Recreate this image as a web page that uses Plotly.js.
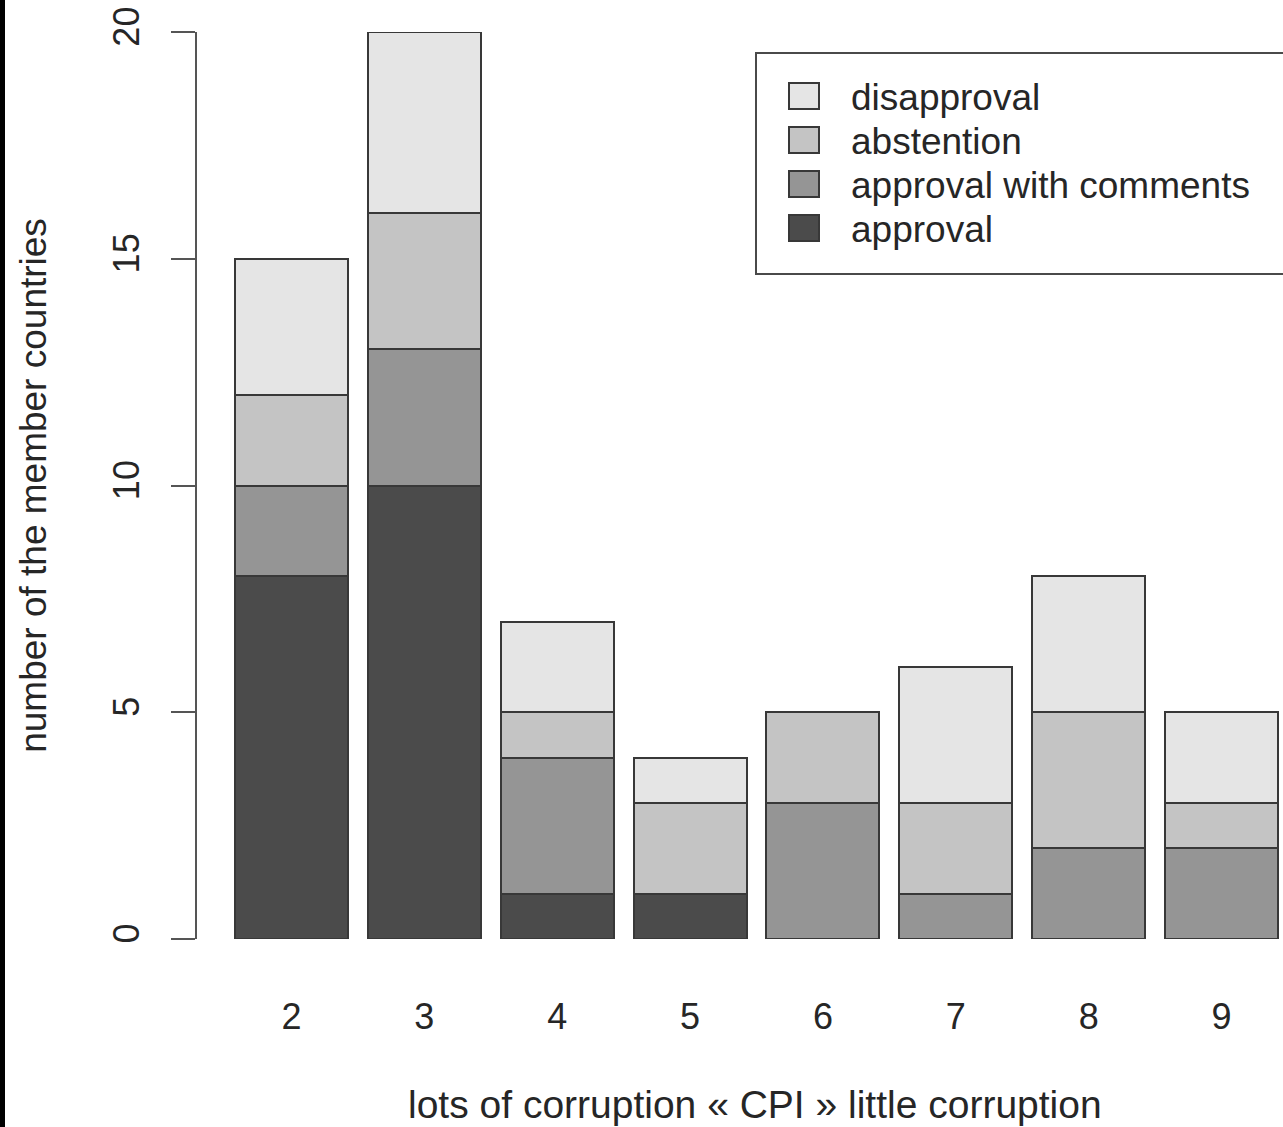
<!DOCTYPE html>
<html>
<head>
<meta charset="utf-8">
<script src="https://cdn.plot.ly/plotly-3.0.1.min.js"></script>
<style>html,body{margin:0;padding:0;background:#fff;}#chart{width:1283px;height:1127px;}</style>
</head>
<body>
<div id="chart"></div>
<script>
// CPI categories
const categories = [2, 3, 4, 5, 6, 7, 8, 9];
// counts per vote type
const approval = [8, 10, 1, 1, 0, 0, 0, 0];
const approvalWithComments = [2, 3, 3, 0, 3, 1, 2, 2];
const abstention = [2, 3, 1, 2, 2, 2, 3, 1];
const disapproval = [3, 4, 2, 1, 0, 3, 3, 2];
const seriesNames = ["approval", "approval with comments", "abstention", "disapproval"];
const seriesColors = ["#4b4b4b", "#959595", "#c4c4c4", "#e5e5e5"];
const yTicks = [0, 5, 10, 15, 20];
const xTitle = "lots of corruption « CPI » little corruption";
const yTitle = "number of the member countries";

const W = 1283, H = 1127;
const mL = 197, mR = 0, mT = 31.5, mB = 187.5;
const FONT = "Liberation Sans, Arial, Helvetica, sans-serif";
const FS = 37;
const TXT = "#262626";
const EDGE = "#383838";

const seriesValues = [approval, approvalWithComments, abstention, disapproval];
const traces = seriesValues.map((vals, i) => ({
  type: "bar",
  name: seriesNames[i],
  x: categories,
  y: vals,
  width: 0.85,
  marker: {color: seriesColors[i], line: {color: EDGE, width: 2}},
  hoverinfo: "x+y+name"
}));

const pw = W - mL - mR, ph = H - mT - mB;
const layout = {
  width: W, height: H,
  margin: {l: mL, r: mR, t: mT, b: mB, pad: 0},
  paper_bgcolor: "#ffffff", plot_bgcolor: "#ffffff",
  barmode: "stack",
  font: {family: FONT, size: FS, color: TXT},
  showlegend: true,
  legend: {
    x: (755 - mL) / pw, y: (939.5 - 52) / ph, xanchor: "left", yanchor: "top",
    traceorder: "reversed",
    bgcolor: "#ffffff", bordercolor: "#4a4a4a", borderwidth: 2,
    font: {family: FONT, size: FS, color: TXT},
    itemwidth: 84, tracegroupgap: 0
  },
  xaxis: {
    type: "linear",
    range: [1.2887, 9.4627],
    tickmode: "array", tickvals: categories, ticktext: categories.map(String),
    ticks: "outside", ticklen: 46, tickcolor: "rgba(0,0,0,0)",
    showline: false, showgrid: false, zeroline: false,
    tickfont: {family: FONT, size: 36, color: TXT},
    fixedrange: true
  },
  yaxis: {
    range: [0, 20],
    tickmode: "array", tickvals: yTicks, ticktext: yTicks.map(String),
    ticks: "outside", ticklen: 24, tickwidth: 2, tickcolor: "#555555",
    tickangle: -90, ticklabelstandoff: 18,
    showline: true, linecolor: "#555555", linewidth: 2,
    showgrid: false, zeroline: false,
    tickfont: {family: FONT, size: 36, color: TXT},
    title: {text: yTitle, font: {family: FONT, size: FS, color: TXT}, standoff: 48},
    fixedrange: true
  },
  annotations: [{
    text: xTitle, xref: "paper", yref: "paper",
    x: (755 - mL) / pw, y: -(1105 - (H - mB)) / ph,
    xanchor: "center", yanchor: "middle", showarrow: false,
    font: {family: FONT, size: 39, color: TXT}
  }],
  shapes: [{
    type: "line", xref: "paper", yref: "paper",
    x0: (2.5 - mL) / pw, x1: (2.5 - mL) / pw,
    y0: -(mB + 5) / ph, y1: 1 + (mT + 5) / ph,
    line: {color: "#000000", width: 5}
  }]
};

Plotly.newPlot("chart", traces, layout, {displayModeBar: false, staticPlot: true}).then(() => {
  try {
    document.querySelectorAll(".legend .legendpoints path").forEach(p => {
      p.setAttribute("d", "M15,13H-15V-13H15Z");
    });
    const items = Array.from(document.querySelectorAll(".legend .traces"));
    const parsed = items.map(g => {
      const m = /translate\(\s*([-\d.e]+)[ ,]+([-\d.e]+)\s*\)/.exec(g.getAttribute("transform") || "");
      return m ? [parseFloat(m[1]), parseFloat(m[2])] : null;
    });
    if (parsed.length && parsed.every(p => p)) {
      parsed.sort((a, b) => a[1] - b[1]);
      const y0 = parsed[0][1];
      const order = items.slice().sort((a, b) => {
        const ya = parseFloat(/translate\(\s*[-\d.e]+[ ,]+([-\d.e]+)/.exec(a.getAttribute("transform"))[1]);
        const yb = parseFloat(/translate\(\s*[-\d.e]+[ ,]+([-\d.e]+)/.exec(b.getAttribute("transform"))[1]);
        return ya - yb;
      });
      order.forEach((g, i) => {
        const m = /translate\(\s*([-\d.e]+)[ ,]+([-\d.e]+)/.exec(g.getAttribute("transform"));
        g.setAttribute("transform", "translate(" + m[1] + "," + (y0 + 11 + i * 44) + ")");
      });
    }
    const bg = document.querySelector(".legend rect.bg");
    if (bg) {
      bg.setAttribute("height", "221");
      bg.setAttribute("width", "620");
    }
  } catch (e) {}
});
</script>
</body>
</html>
